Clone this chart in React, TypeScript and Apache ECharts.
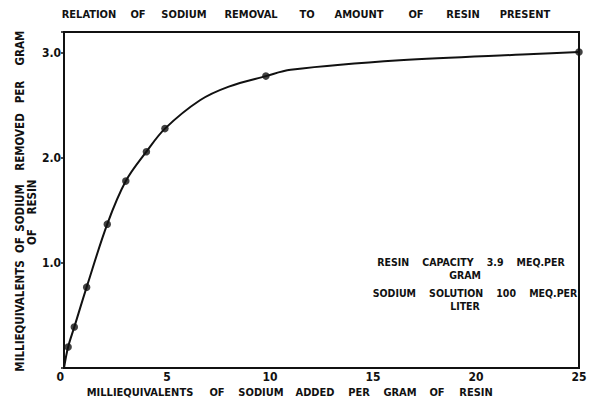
import React, { useEffect, useRef } from "react";
import * as echarts from "echarts";

// Measured points: meq Na added per g resin vs meq Na removed per g resin
const addedX = [0.2, 0.5, 1.1, 2.1, 3.0, 4.0, 4.9, 9.8, 25];
const removedY = [0.2, 0.39, 0.77, 1.37, 1.78, 2.06, 2.28, 2.78, 3.01];

// Hand-drawn fitted curve
const curveX = [0, 0.2, 0.5, 1.1, 2.1, 3.0, 4.0, 4.9, 6.6, 8.0, 9.8, 11.0, 16.3, 22.8, 25];
const curveY = [0, 0.2, 0.39, 0.77, 1.37, 1.78, 2.06, 2.28, 2.55, 2.68, 2.78, 2.84, 2.93, 2.99, 3.01];

const xTicks = [0, 5, 10, 15, 20, 25];
const yTicks = [1.0, 2.0, 3.0];

const titleWords = ["RELATION", "OF", "SODIUM", "REMOVAL", "TO", "AMOUNT", "OF", "RESIN", "PRESENT"];
const xTitleWords = ["MILLIEQUIVALENTS", "OF", "SODIUM", "ADDED", "PER", "GRAM", "OF", "RESIN"];
const yTitleWords1 = ["MILLIEQUIVALENTS", "OF", "SODIUM", "REMOVED", "PER", "GRAM"];
const yTitleWords2 = ["OF", "RESIN"];
const noteLines = ["RESIN    CAPACITY    3.9    MEQ.PER", "GRAM", "SODIUM    SOLUTION    100    MEQ.PER", "LITER"];

// layout (positions only)
const titleCx = [89, 138, 184, 251, 307, 359, 416, 463, 525];
const xTitleCx = [140, 217, 261, 315, 359, 400, 437, 476];
const yTitle1Cy = [316, 245, 208, 142, 92, 48];
const yTitle2Cy = [237, 197];
const noteCx = [471, 465, 475, 465];
const noteCy = [262, 275, 293, 306];

const FONT = "DejaVu Sans Condensed";
const INK = "#111";

export default function App() {
  const ref = useRef<HTMLDivElement>(null);
  useEffect(() => {
    const chart = echarts.init(ref.current!, null, { renderer: "svg" });
    const txt = (text: string, x: number, y: number, size: number, rot = 0) => ({
      type: "text",
      x,
      y,
      rotation: rot,
      style: {
        text,
        fill: INK,
        font: `bold ${size}px "${FONT}"`,
        align: "center",
        verticalAlign: "middle",
      },
    });
    const graphics: any[] = [];
    titleWords.forEach((w, i) => graphics.push(txt(w, titleCx[i], 14, 11)));
    xTitleWords.forEach((w, i) => graphics.push(txt(w, xTitleCx[i], 392, 11)));
    yTitleWords1.forEach((w, i) => graphics.push(txt(w, 20, yTitle1Cy[i], 11.5, Math.PI / 2)));
    yTitleWords2.forEach((w, i) => graphics.push(txt(w, 32, yTitle2Cy[i], 11.5, Math.PI / 2)));
    noteLines.forEach((w, i) => graphics.push(txt(w, noteCx[i], noteCy[i], 10.5)));

    chart.setOption({
      animation: false,
      backgroundColor: "#fff",
      grid: {
        left: 64,
        right: 14,
        top: 32,
        bottom: 34,
        show: true,
        borderColor: INK,
        borderWidth: 2,
        backgroundColor: "transparent",
      },
      xAxis: {
        type: "value",
        min: 0,
        max: 25,
        interval: 5,
        axisLine: { show: true, lineStyle: { color: INK, width: 2 } },
        axisTick: { show: false },
        splitLine: { show: false },
        axisLabel: {
          color: INK,
          fontFamily: FONT,
          fontWeight: "bold",
          fontSize: 12,
          margin: 3,
          alignMinLabel: "right",
          formatter: (v: number) => (xTicks.includes(v) ? String(v) : ""),
        },
      },
      yAxis: {
        type: "value",
        min: 0,
        max: 3.2,
        interval: 1,
        axisLine: { show: true, lineStyle: { color: INK, width: 2 } },
        axisTick: { show: true, length: 3, lineStyle: { color: INK, width: 1.5 } },
        splitLine: { show: false },
        axisLabel: {
          color: INK,
          fontFamily: FONT,
          fontWeight: "bold",
          fontSize: 12,
          margin: 3,
          formatter: (v: number) => (yTicks.includes(v) ? v.toFixed(1) : ""),
        },
      },
      graphic: graphics,
      series: [
        {
          type: "line",
          data: curveX.map((x, i) => [x, curveY[i]]),
          smooth: 0.35,
          showSymbol: false,
          symbol: "none",
          lineStyle: { color: INK, width: 2 },
          z: 2,
        },
        {
          type: "scatter",
          data: addedX.map((x, i) => [x, removedY[i]]),
          symbol: "circle",
          symbolSize: 7.5,
          itemStyle: { color: INK },
          z: 3,
        },
      ],
    });
    return () => chart.dispose();
  }, []);
  return <div ref={ref} style={{ width: 593, height: 402, position: "absolute", left: 0, top: 0 }} />;
}
